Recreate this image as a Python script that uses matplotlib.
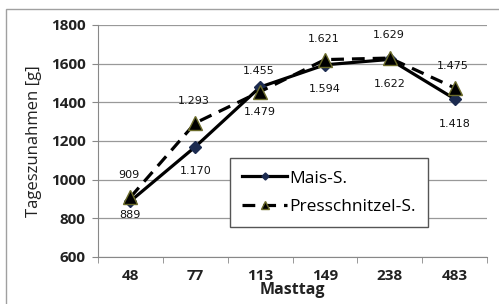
import matplotlib.pyplot as plt
from matplotlib.patches import Rectangle

tage = ["48", "77", "113", "149", "238", "483"]
mais = [889, 1170, 1479, 1594, 1622, 1418]
press = [909, 1293, 1455, 1621, 1629, 1475]

# label offsets in pixels (below for Mais, above for Presschnitzel)
mais_off = [-14, -24, -25, -24, -25, -25]
press_off = [22, 22, 21, 21, 23, 22]


def fmt(v):
    s = str(v)
    if v >= 1000:
        s = s[0] + "." + s[1:]
    return s


plt.rcParams["font.family"] = ["Open Sans", "DejaVu Sans"]

W, H = 499, 304
fig = plt.figure(figsize=(W / 100, H / 100), dpi=100)
fig.patches.append(Rectangle((6 / W, -0.1), 1.2, 1 - 9 / H + 0.1, transform=fig.transFigure,
                             fill=False, edgecolor="#a0a0a0", linewidth=1))
ax = fig.add_axes([98 / W, 1 - 257 / H, (487 - 98) / W, (257 - 25) / H])

xs = list(range(len(tage)))
ax.plot(xs, mais, color="black", linewidth=2.3, marker="D", markersize=6.5,
        markerfacecolor="#1c2b50", markeredgecolor="#1c2b50", label="Mais-S.", zorder=3)
ax.plot(xs, press, color="black", linewidth=2.3, linestyle=(0, (4, 2.5)), marker="^", markersize=10,
        markerfacecolor="black", markeredgecolor="#6b6b2a", label="Presschnitzel-S.", zorder=4)

pt = 72 / 100
for x, v, o in zip(xs, mais, mais_off):
    ax.annotate(fmt(v), (x, v), xytext=(0, o * pt), textcoords="offset points",
                ha="center", va="center", fontsize=8, family="DejaVu Sans", color="#111111")
for x, v, o in zip(xs, press, press_off):
    ax.annotate(fmt(v), (x, v), xytext=(-1, o * pt), textcoords="offset points",
                ha="center", va="center", fontsize=8, family="DejaVu Sans", color="#111111")

ax.set_xlim(-0.5, len(tage) - 0.5)
ax.set_ylim(600, 1800)
ax.set_yticks(range(600, 1801, 200))
ax.set_xticks(xs)
ax.set_xticklabels(tage)
ax.set_xticks([i - 0.5 for i in range(len(tage) + 1)], minor=True)
ax.tick_params(axis="x", which="major", length=0, pad=9)
ax.tick_params(axis="x", which="minor", length=4, color="#888888", direction="out")
ax.tick_params(axis="y", length=4, color="#888888", direction="out", pad=5)
for lab in ax.get_xticklabels() + ax.get_yticklabels():
    lab.set_fontsize(11)
    lab.set_fontweight("bold")
    lab.set_color("#222222")

ax.grid(axis="y", color="#999999", linewidth=0.9)
ax.set_axisbelow(True)
for s in ["top", "right"]:
    ax.spines[s].set_visible(False)
ax.spines["left"].set_color("#888888")
ax.spines["bottom"].set_color("#888888")

ax.set_xlabel("Masttag", fontsize=11.5, fontweight="bold", labelpad=-1, color="#222222")
ax.set_ylabel("Tageszunahmen [g]", fontsize=12, labelpad=6, color="#222222")

leg = ax.legend(loc="lower left", bbox_to_anchor=((230 - 98) / (487 - 98), (257 - 227) / (257 - 25),
                                                 (428 - 230) / (487 - 98), (227 - 154) / (257 - 25)),
                mode="expand", fancybox=False, framealpha=1, edgecolor="#555555",
                prop={"size": 12.5}, handlelength=2.6, handletextpad=0.1, markerscale=0.55,
                labelspacing=0.7, borderpad=0.7, borderaxespad=0)
leg.get_frame().set_linewidth(1)

fig.savefig("out.png", dpi=100)
